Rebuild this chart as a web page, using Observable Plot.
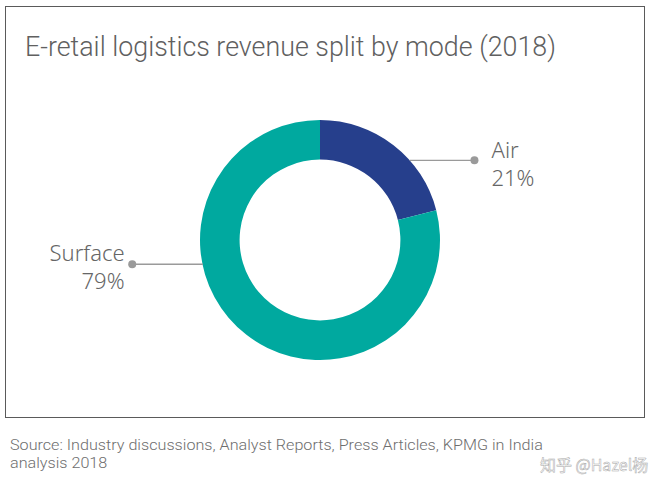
<!DOCTYPE html>
<html><head><meta charset="utf-8">
<script src="https://cdn.jsdelivr.net/npm/d3@7"></script>
<script src="https://cdn.jsdelivr.net/npm/@observablehq/plot@0.6"></script>
<style>
html,body{margin:0;padding:0;background:#fff;}
body{width:651px;height:477px;position:relative;overflow:hidden;font-family:Roboto,"Noto Sans",sans-serif;}
#frame{position:absolute;left:5px;top:6px;width:638px;height:410px;border:1.5px solid #5a5a5a;}
.fit{position:absolute;white-space:nowrap;transform-origin:0 0;font-weight:300;}
#title{left:25px;top:34px;font-size:27px;line-height:27px;color:#606060;}
#cap{left:10px;top:436px;font-size:15.3px;line-height:18px;color:#6e6e6e;}
#chart{position:absolute;left:20px;top:89.5px;}
#wm{position:absolute;left:540px;top:455px;font-size:16px;line-height:18px;font-family:"Noto Sans CJK SC",sans-serif;color:rgba(255,255,255,0.95);-webkit-text-stroke:0.5px #a8a8a8;white-space:nowrap;}
</style></head><body>
<div id="frame"></div>
<div id="title" class="fit"></div>
<div id="chart"></div>
<div id="cap" class="fit"><span id="cap1a"></span><span id="cap1b"></span><br><span id="cap2"></span></div>
<div id="wm"></div>
<script>
// ---- data ----
const titleText = "E-retail logistics revenue split by mode (2018)";
const modes = ["Air", "Surface"];
const shares = [21, 79];
const colors = ["#263f8c", "#00a99f"];
const captionLines = ["Source: Industry discussions, Analyst Reports, Press Articles, KPMG", " in India", "analysis 2018"];
const watermark = "知乎 @Hazel杨";

// ---- layout constants (unit = outer radius) ----
const R_OUT = 1, R_IN = 0.67;
const labelLayout = {
  Air:     {ly: 0.668,  dotX: 1.283,  tx: 1.425,  ty: 0.848, anchor: "start"},
  Surface: {ly: -0.198, dotX: -1.569, tx: -1.633, ty: -0.01, anchor: "end"}
};

const slices = modes.map((m, i) => ({mode: m, share: shares[i]}));
const arcs = d3.pie().sort(null).value(d => d.share)(slices);
const labels = slices.map(d => {
  const L = labelLayout[d.mode];
  const side = L.anchor === "start" ? 1 : -1;
  return {...d, ...L, x1: side * Math.sqrt(R_OUT * R_OUT - L.ly * L.ly), text: `${d.mode}\n${d.share}%`};
});

const chart = Plot.plot({
  width: 600, height: 300, margin: 0,
  x: {domain: [-2.5, 2.5], axis: null},
  y: {domain: [-1.25, 1.25], axis: null},
  color: {domain: modes, range: colors},
  style: {background: "transparent", overflow: "visible"},
  marks: [
    Plot.dot(arcs, {
      x: () => 0, y: () => 0, fill: d => d.data.mode,
      render(index, scales, values) {
        const k = Math.abs(scales.x(1) - scales.x(0));
        const arc = d3.arc().innerRadius(R_IN * k).outerRadius(R_OUT * k);
        const g = d3.create("svg:g");
        g.selectAll("path").data(index).join("path")
          .attr("transform", i => `translate(${values.x[i]},${values.y[i]})`)
          .attr("d", i => arc(arcs[i]))
          .attr("fill", i => values.fill[i]);
        return g.node();
      }
    }),
    Plot.link(labels, {x1: "x1", y1: "ly", x2: "dotX", y2: "ly", stroke: "#9a9a9a", strokeWidth: 1.3}),
    Plot.dot(labels, {x: "dotX", y: "ly", r: 4, fill: "#9a9a9a"}),
    Plot.text(labels.filter(d => d.anchor === "start"), {x: "tx", y: "ty", text: "text", textAnchor: "start", lineAnchor: "top", lineHeight: 1.25, fontSize: 22, fontWeight: 300, fill: "#666"}),
    Plot.text(labels.filter(d => d.anchor === "end"), {x: "tx", y: "ty", text: "text", textAnchor: "end", lineAnchor: "top", lineHeight: 1.25, fontSize: 22, fontWeight: 300, fill: "#666"})
  ]
});
document.getElementById("chart").appendChild(chart);

// ---- texts ----
const t = document.getElementById("title");
t.textContent = titleText;
const tw = t.getBoundingClientRect().width;
t.style.transform = `scaleX(${531 / tw})`;

document.getElementById("cap1a").textContent = captionLines[0];
document.getElementById("cap1b").textContent = captionLines[1];
document.getElementById("cap2").textContent = captionLines[2];
const cw = document.getElementById("cap1a").getBoundingClientRect().width;
document.getElementById("cap").style.transform = `scaleX(${478 / cw})`;
document.getElementById("wm").textContent = watermark;
</script>
</body></html>
